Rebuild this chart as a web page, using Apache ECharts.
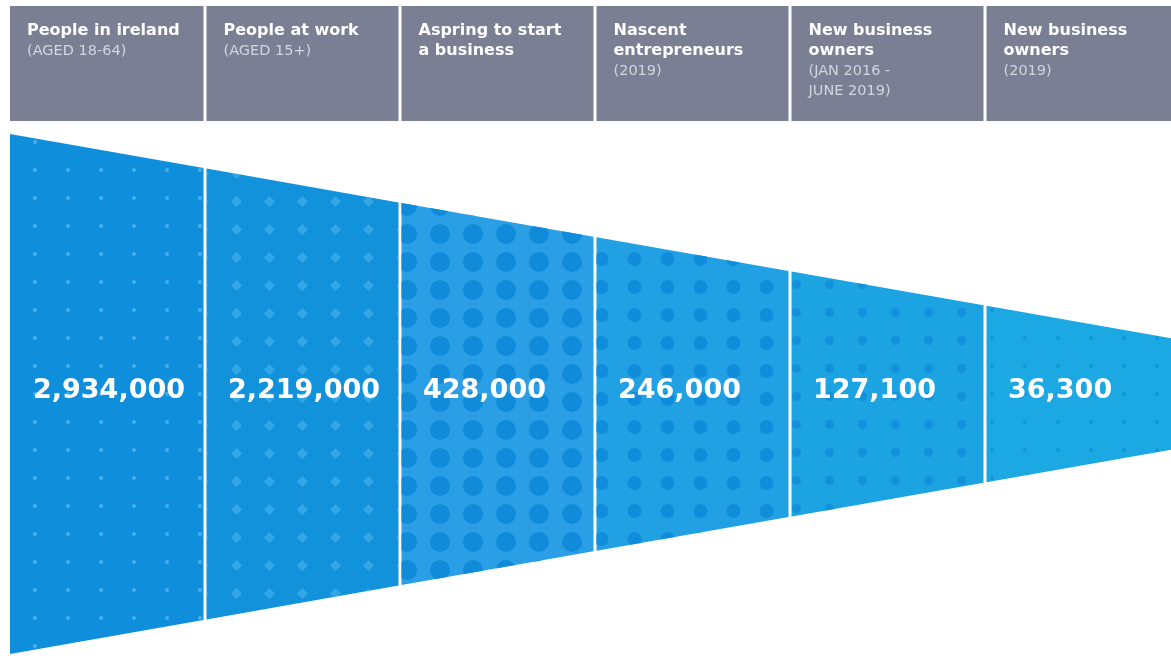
<!DOCTYPE html>
<html>
<head>
<meta charset="utf-8">
<title>Entrepreneurship pipeline in Ireland</title>
<script src="https://cdn.jsdelivr.net/npm/echarts@6/dist/echarts.min.js"></script>
<style>
  html, body { margin: 0; padding: 0; background: #ffffff; }
  #chart { width: 1171px; height: 656px; }
</style>
</head>
<body>
<div id="chart"></div>
<script>
// Stages of the pipeline, left to right
const categories = ['population', 'employed', 'aspiring', 'nascent', 'newOwners3y', 'newOwners2019'];
const stageTitles = [
  'People in ireland',
  'People at work',
  'Aspring to start\na business',
  'Nascent\nentrepreneurs',
  'New business\nowners',
  'New business\nowners'
];
const stageNotes = [
  '(AGED 18-64)',
  '(AGED 15+)',
  '',
  '(2019)',
  '(JAN 2016 -\nJUNE 2019)',
  '(2019)'
];
const stageValues = [2934000, 2219000, 428000, 246000, 127100, 36300];

// Fill and halftone texture for each segment
const segmentFills = ['#0f8fdb', '#1392dc', '#2a9fe5', '#22a0e4', '#1ca3e2', '#1ba8e3'];
const segmentDecals = [
  { symbol: 'circle', color: 'rgba(120,200,245,0.55)', dashArrayX: [4, 28.5], dashArrayY: [4, 23.5], symbolSize: 1 },
  { symbol: 'diamond', color: 'rgba(90,190,240,0.45)', dashArrayX: [11, 21.5], dashArrayY: [11, 16.5], symbolSize: 1 },
  { symbol: 'circle', color: '#108bd9', dashArrayX: [22, 10.5], dashArrayY: [20, 7.5], symbolSize: 1 },
  { symbol: 'circle', color: '#108dda', dashArrayX: [15, 17.5], dashArrayY: [14, 13.5], symbolSize: 1 },
  { symbol: 'circle', color: '#1390dc', dashArrayX: [9, 23.5], dashArrayY: [9, 18.5], symbolSize: 1 },
  { symbol: 'circle', color: 'rgba(20,140,215,0.7)', dashArrayX: [4, 28.5], dashArrayY: [4, 23.5], symbolSize: 1 }
];

const TAPER_END = 0.208;   // half-height at the narrow end, relative to the wide end
const GAP = 1.5;           // half width of the white seam between segments
const SEG_WIDTH = 195;     // pixel width of one stage

const fmt = v => v.toLocaleString('en-US');

const chart = echarts.init(document.getElementById('chart'), null, { renderer: 'canvas' });

// Each stage i occupies [i, i + 1] on the x axis
function renderSegment(params, api) {
  const i = api.value(0);
  const n = categories.length;
  const xStart = api.coord([0, 0])[0];
  const xEnd = api.coord([n, 0])[0];
  const halfAt = x => 1 - (1 - TAPER_END) * (x - xStart) / (xEnd - xStart);
  const xi = api.coord([i, 0])[0];
  const x0 = xi + (i === 0 ? 0 : GAP);
  const x1 = api.coord([i + 1, 0])[0] - (i === n - 1 ? 0 : GAP);
  const yT0 = api.coord([i, halfAt(x0)])[1];
  const yB0 = api.coord([i, -halfAt(x0)])[1];
  const yT1 = api.coord([i, halfAt(x1)])[1];
  const yB1 = api.coord([i, -halfAt(x1)])[1];
  const yMid = api.coord([i, 0])[1];
  return {
    type: 'group',
    children: [
      {
        type: 'polygon',
        shape: { points: [[x0, yT0], [x1, yT1], [x1, yB1], [x0, yB0]] },
        style: { fill: segmentFills[i], decal: segmentDecals[i] }
      },
      {
        type: 'text',
        x: xi + 23,
        y: yMid - 3,
        style: {
          text: fmt(api.value(1)),
          fill: '#ffffff',
          fontFamily: 'DejaVu Sans',
          fontWeight: 'bold',
          fontSize: 27,
          verticalAlign: 'middle'
        }
      }
    ]
  };
}

function renderHeader(params, api) {
  const i = api.value(0);
  const n = categories.length;
  const x0 = api.coord([i, 0])[0] + (i === 0 ? 0 : GAP);
  const x1 = api.coord([i + 1, 0])[0] - (i === n - 1 ? 0 : GAP);
  const lines = [];
  stageTitles[i].split('\n').forEach(l => lines.push('{t|' + l + '}'));
  if (stageNotes[i]) stageNotes[i].split('\n').forEach(l => lines.push('{s|' + l + '}'));
  return {
    type: 'group',
    children: [
      {
        type: 'rect',
        shape: { x: x0, y: 6, width: x1 - x0, height: 115 },
        style: { fill: '#7b7f93' }
      },
      {
        type: 'text',
        x: x0 + 17,
        y: 21,
        style: {
          text: lines.join('\n'),
          rich: {
            t: { fontFamily: 'DejaVu Sans', fontWeight: 'bold', fontSize: 16, lineHeight: 20, fill: '#ffffff' },
            s: { fontFamily: 'DejaVu Sans', fontSize: 14.5, lineHeight: 20, fill: '#d3d6df' }
          }
        }
      }
    ]
  };
}

const rows = categories.map((c, i) => [i, stageValues[i]]);
const plotLeft = 10;
const plotWidth = 1171 - plotLeft;

chart.setOption({
  animation: false,
  backgroundColor: '#ffffff',
  grid: { left: plotLeft, top: 134, width: plotWidth, height: 520 },
  xAxis: {
    type: 'value',
    min: 0,
    max: plotWidth / SEG_WIDTH,
    show: false
  },
  yAxis: {
    type: 'value',
    min: -1,
    max: 1,
    show: false
  },
  series: [
    {
      type: 'custom',
      name: 'stage',
      renderItem: renderSegment,
      encode: { x: 0 },
      data: rows,
      clip: false
    },
    {
      type: 'custom',
      name: 'header',
      renderItem: renderHeader,
      encode: { x: 0 },
      data: rows,
      clip: false,
      silent: true
    }
  ]
});
</script>
</body>
</html>
